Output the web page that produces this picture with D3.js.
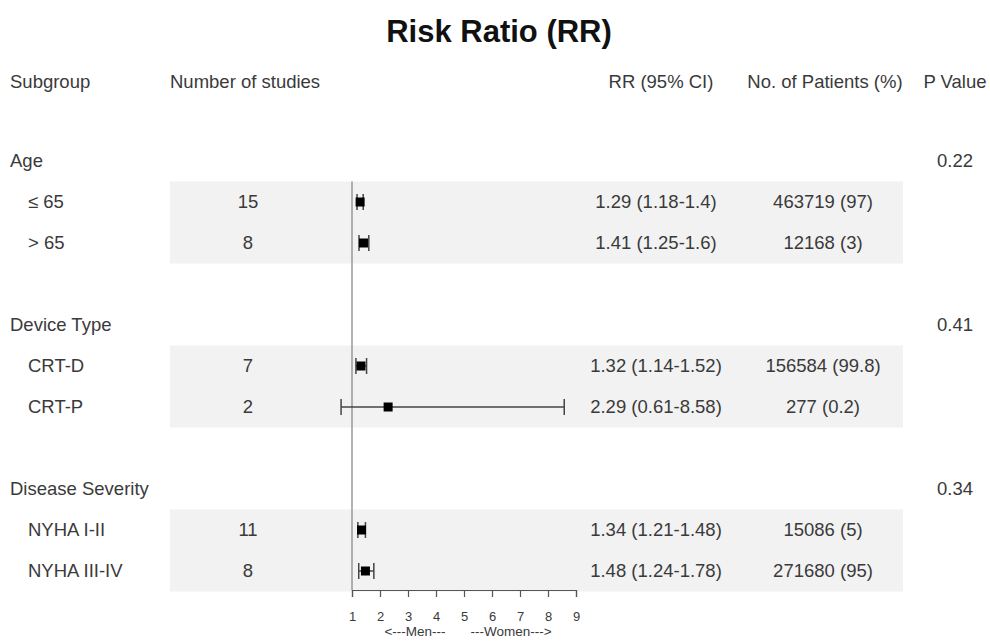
<!DOCTYPE html>
<meta charset="utf-8">
<script src="https://cdn.jsdelivr.net/npm/d3@7"></script>
<style>
  body { margin: 0; background: #fff; }
  text { font-family: "Liberation Sans", Arial, sans-serif; }
</style>
<body>
<script>

var width = 990
var height = 641

// data
var groups = ["Age", "Device Type", "Disease Severity"]
var groupP = ["0.22", "0.41", "0.34"]
var subgroups = ["\u2264 65", "> 65", "CRT-D", "CRT-P", "NYHA I-II", "NYHA III-IV"]
var subgroupOf = [0, 0, 1, 1, 2, 2]
var studies = [15, 8, 7, 2, 11, 8]
var rr = [1.29, 1.41, 1.32, 2.29, 1.34, 1.48]
var rrLow = [1.18, 1.25, 1.14, 0.61, 1.21, 1.24]
var rrHigh = [1.4, 1.6, 1.52, 8.58, 1.48, 1.78]
var patients = ["463719 (97)", "12168 (3)", "156584 (99.8)", "277 (0.2)", "15086 (5)", "271680 (95)"]
var xTicks = [1, 2, 3, 4, 5, 6, 7, 8, 9]

var x = d3.scaleLinear().domain([1, 9]).range([352, 576])
var y = d3.scaleLinear().domain([0, 10]).range([161, 571])
var rowH = y(1) - y(0)

// row index for each group header and subgroup
var groupRow = groups.map(function(d, i) { return i * 4 })
var subRow = subgroups.map(function(d, i) { return subgroupOf[i] * 4 + 1 + (i % 2) })

var svg = d3.select("body").append("svg")
            .attr("width", width)
            .attr("height", height)

var txt = "#3a3a3a"
var fs = "18.5px"

// shaded bands behind each pair of subgroups
svg.append("g").selectAll("rect")
   .data(groups)
   .enter().append("rect")
   .attr("x", 170)
   .attr("width", 733)
   .attr("y", function(d, i) { return y(groupRow[i] + 1) - rowH/2 })
   .attr("height", rowH * 2)
   .attr("fill", "#f2f2f2")

svg.append("text")
   .attr("x", 499).attr("y", 42)
   .attr("text-anchor", "middle")
   .style("font-size", "31px").style("font-weight", "bold")
   .attr("fill", "#111")
   .text("Risk Ratio (RR)")

var headers = [
  {t: "Subgroup", x: 10, a: "start"},
  {t: "Number of studies", x: 170, a: "start"},
  {t: "RR (95% CI)", x: 661, a: "middle"},
  {t: "No. of Patients (%)", x: 825, a: "middle"},
  {t: "P Value", x: 955, a: "middle"}
]
svg.append("g").selectAll("text")
   .data(headers)
   .enter().append("text")
   .attr("x", function(d) { return d.x })
   .attr("y", 88)
   .attr("text-anchor", function(d) { return d.a })
   .style("font-size", fs).attr("fill", txt)
   .text(function(d) { return d.t })

// group headers and p values
var gh = svg.append("g")
gh.selectAll(".gname")
  .data(groups)
  .enter().append("text")
  .attr("x", 10)
  .attr("y", function(d, i) { return y(groupRow[i]) + 6 })
  .style("font-size", fs).attr("fill", txt)
  .text(function(d) { return d })
gh.selectAll(".gp")
  .data(groupP)
  .enter().append("text")
  .attr("x", 955)
  .attr("y", function(d, i) { return y(groupRow[i]) + 6 })
  .attr("text-anchor", "middle")
  .style("font-size", fs).attr("fill", txt)
  .text(function(d) { return d })

// subgroup text columns
var rows = svg.append("g").selectAll("g")
   .data(subgroups)
   .enter().append("g")
   .attr("transform", function(d, i) { return "translate(0," + (y(subRow[i]) + 6) + ")" })

rows.append("text").attr("x", 28).style("font-size", fs).attr("fill", txt)
    .text(function(d) { return d })
rows.append("text").attr("x", 248).attr("text-anchor", "middle").style("font-size", fs).attr("fill", txt)
    .text(function(d, i) { return studies[i] })
rows.append("text").attr("x", 656).attr("text-anchor", "middle").style("font-size", fs).attr("fill", txt)
    .text(function(d, i) { return rr[i].toFixed(2) + " (" + rrLow[i] + "-" + rrHigh[i] + ")" })
rows.append("text").attr("x", 823).attr("text-anchor", "middle").style("font-size", fs).attr("fill", txt)
    .text(function(d, i) { return patients[i] })

// reference line at RR = 1
svg.append("line")
   .attr("x1", x(1)).attr("x2", x(1))
   .attr("y1", y(1) - rowH/2).attr("y2", 590)
   .attr("stroke", "#999").attr("stroke-width", 1.5)

// confidence intervals
var ci = svg.append("g").selectAll("g")
   .data(subgroups)
   .enter().append("g")
   .attr("transform", function(d, i) { return "translate(0," + y(subRow[i]) + ")" })

ci.append("line")
  .attr("x1", function(d, i) { return x(rrLow[i]) })
  .attr("x2", function(d, i) { return x(rrHigh[i]) })
  .attr("stroke", "#444").attr("stroke-width", 1.5)
ci.append("line")
  .attr("x1", function(d, i) { return x(rrLow[i]) })
  .attr("x2", function(d, i) { return x(rrLow[i]) })
  .attr("y1", -8).attr("y2", 8)
  .attr("stroke", "#444").attr("stroke-width", 1.5)
ci.append("line")
  .attr("x1", function(d, i) { return x(rrHigh[i]) })
  .attr("x2", function(d, i) { return x(rrHigh[i]) })
  .attr("y1", -8).attr("y2", 8)
  .attr("stroke", "#444").attr("stroke-width", 1.5)
ci.append("rect")
  .attr("x", function(d, i) { return x(rr[i]) - 4.5 })
  .attr("y", -4.5)
  .attr("width", 9).attr("height", 9)
  .attr("fill", "#000")

// x axis
var axis = svg.append("g")
   .attr("transform", "translate(0,590)")
   .call(d3.axisBottom(x).tickValues(xTicks).tickSize(7).tickFormat(d3.format("d")))
axis.select(".domain").attr("stroke", "#555").attr("stroke-width", 1.2)
axis.selectAll(".tick line").attr("stroke", "#555").attr("stroke-width", 1.2)
axis.selectAll(".tick text").attr("fill", txt).style("font-size", "13px")
    .style("font-family", "'Liberation Sans', Arial, sans-serif")
    .attr("y", 31).attr("dy", 0)

svg.append("text").attr("x", 415).attr("y", 636).attr("text-anchor", "middle")
   .style("font-size", "13.5px").attr("fill", txt).text("<---Men---")
svg.append("text").attr("x", 511).attr("y", 636).attr("text-anchor", "middle")
   .style("font-size", "13.5px").attr("fill", txt).text("---Women--->")

</script>
</body>
